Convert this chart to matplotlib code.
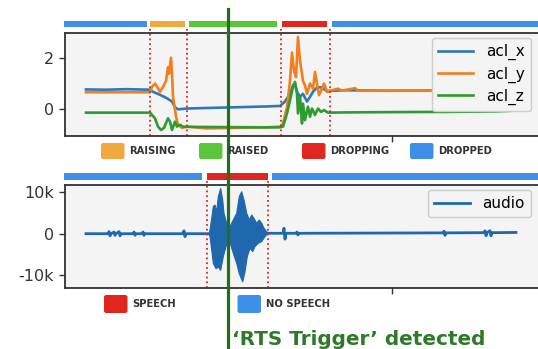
import matplotlib
matplotlib.use("Agg")
import matplotlib.pyplot as plt
from matplotlib.patches import FancyBboxPatch
from matplotlib.lines import Line2D

# ---- accelerometer (sample index, value) ----
t_x = [0, 20, 40, 64, 67, 74, 81, 86, 89, 92, 101, 120, 140, 160, 180, 194,
       199, 204, 207, 209, 211, 214, 217, 221, 224, 227, 231, 236, 241, 246,
       260, 300, 360, 430]
acl_x = [0.77, 0.76, 0.78, 0.76, 0.68, 0.56, 0.43, 0.30, 0.08, 0.00, 0.03,
         0.05, 0.07, 0.09, 0.11, 0.13, 0.30, 0.60, 0.93, 1.00, 0.68, 0.48,
         0.60, 0.30, 0.48, 0.68, 0.85, 0.85, 0.70, 0.72, 0.74, 0.72, 0.73, 0.72]

t_y = [0, 64, 66, 69, 71, 74, 77, 80, 82, 83, 85, 86, 87, 90, 92, 96, 101,
       120, 150, 180, 194, 197, 201, 204, 206, 208, 210, 212, 214, 216, 217,
       219, 221, 224, 227, 229, 231, 233, 236, 238, 241, 244, 252, 256, 269,
       272, 300, 430]
acl_y = [0.66, 0.66, 0.87, 1.00, 0.87, 0.68, 0.87, 1.10, 1.63, 1.38, 2.00,
         1.38, 0.50, -0.28, -0.60, -0.72, -0.67, -0.74, -0.72, -0.70, -0.67,
         -0.55, 0.08, 1.10, 2.20, 1.50, 1.25, 2.80, 1.88, 1.38, 1.10, 0.93,
         0.60, 1.00, 0.80, 1.45, 1.00, 0.55, 0.80, 1.00, 0.68, 0.72, 0.80,
         0.72, 0.82, 0.72, 0.72, 0.72]

t_z = [0, 64, 66, 69, 72, 75, 78, 82, 84, 86, 89, 91, 94, 97, 101, 140, 180,
       194, 197, 201, 204, 207, 209, 211, 212, 214, 216, 217, 219, 222, 224,
       226, 229, 232, 235, 238, 242, 260, 300, 360, 410, 430]
acl_z = [-0.13, -0.13, -0.22, -0.35, -0.67, -0.80, -0.72, -0.35, -0.48, -0.80,
         -0.48, -0.67, -0.60, -0.67, -0.68, -0.69, -0.70, -0.70, -0.67, -0.16,
         0.35, 0.87, 1.06, 0.60, -0.16, 0.48, -0.55, 0.22, -0.42, 0.10, -0.29,
         0.03, -0.22, 0.03, -0.10, -0.03, -0.13, -0.12, -0.11, -0.10, -0.08,
         -0.05]

# ---- audio ----
t_audio = [0, 22, 23, 24, 25, 28, 29, 30, 33, 34, 35, 47, 48, 49, 50, 56, 57,
           58, 59, 97, 98, 99, 100, 123, 182, 197, 198, 199, 200, 210, 211,
           212, 213, 357, 358, 359, 360, 398, 399, 400, 401, 404, 405, 406, 430]
audio = [0, 0, 500, -500, 0, 400, -400, 0, 500, -500, 0, 0, 400, -400, 0, 0,
         400, -400, 0, 0, 700, -700, 0, 0, 100, 100, 1300, -1300, 100, 100,
         400, -300, 100, 200, 600, -400, 200, 250, 700, -500, 250, 700, -500,
         250, 300]

# speech burst envelope
t_up = [123, 124, 125.5, 127.3, 129, 130.7, 132.3, 134.7, 136.7, 138, 140.7,
        144, 147.3, 150.7, 153.3, 155.7, 158, 160.7, 163.3, 165.7, 168, 170.7,
        173.3, 175.7, 178, 180.7, 182]
env_up = [0, 900, 3300, 6500, 6900, 5300, 8900, 10900, 8100, 4900, 2500, 1700,
          3300, 4900, 8900, 10100, 8100, 4900, 3300, 4500, 3700, 2500, 3300,
          2500, 1300, 500, 100]
t_lo = [123, 124, 125.5, 127.3, 130, 132.3, 134.7, 137.3, 140, 142.3, 144.7,
        147.3, 150.7, 153.3, 156.7, 159, 161.3, 164, 166.7, 169, 172.3, 175.7,
        179, 180.7, 182]
env_lo = [0, -700, -3500, -7100, -8400, -8000, -8800, -5500, -3100, -1900,
          -2700, -4700, -7100, -9600, -11600, -9200, -5500, -3500, -4300, -3100,
          -2300, -1900, -700, -300, 100]

# ---- state bars ----
acl_states = [(-22, 61), (64, 99), (103, 191), (196, 241), (246, 460)]
acl_state_cols = ["#3d8fe8", "#f2a93b", "#5ac63c", "#e0261e", "#3d8fe8"]
acl_bounds = [64, 101, 194.5, 244]
audio_states = [(-22, 116), (121, 182), (186, 460)]
audio_state_cols = ["#3d8fe8", "#e0261e", "#3d8fe8"]
audio_bounds = [120.5, 182]

acl_labels = ["RAISING", "RAISED", "DROPPING", "DROPPED"]
acl_label_cols = ["#f2a93b", "#5ac63c", "#e0261e", "#3d8fe8"]
audio_labels = ["SPEECH", "NO SPEECH"]
audio_label_cols = ["#e0261e", "#3d8fe8"]

W, H = 538, 349


def fx(px):
    return px / W


def fy(py):
    return 1 - py / H


fig = plt.figure(figsize=(W / 100, H / 100), dpi=100)
ax1 = fig.add_axes([fx(64.5), fy(136), fx(545) - fx(64.5), 103.3 / H])
ax2 = fig.add_axes([fx(64.5), fy(288), fx(545) - fx(64.5), 103 / H])

for ax in (ax1, ax2):
    ax.set_facecolor("#f4f4f4")
    for s in ax.spines.values():
        s.set_color("#333333")
        s.set_linewidth(1.3)
    ax.set_xlim(-21.5, 459)
    ax.set_xticks([306])
    ax.set_xticklabels([""])
    ax.tick_params(colors="#333333", length=4, width=1, labelsize=11.5)

ax1.plot(t_x, acl_x, color="#2f78b7", lw=1.9, label="acl_x")
ax1.plot(t_y, acl_y, color="#f07f1c", lw=1.9, label="acl_y")
ax1.plot(t_z, acl_z, color="#2f9a2f", lw=1.9, label="acl_z")
ax1.set_ylim(-1.035, 2.97)
ax1.set_yticks([0, 2])

ax2.plot(t_audio, audio, color="#2068ad", lw=2.0, label="audio")
ax2.fill(t_up + t_lo[::-1], env_up + env_lo[::-1], color="#2068ad", lw=0.8)
ax2.set_ylim(-13020, 11680)
ax2.set_yticks([-10000, 0, 10000])
ax2.set_yticklabels(["-10k", "0", "10k"])

for (a, b), c in zip(acl_states, acl_state_cols):
    ax1.axvspan(a, b, ymin=1.052, ymax=1.116, color=c, lw=0, clip_on=False)
for x in acl_bounds:
    ax1.axvline(x, ymin=0, ymax=1.052, color="#d42a22", ls=":", lw=1.3, clip_on=False)
for (a, b), c in zip(audio_states, audio_state_cols):
    ax2.axvspan(a, b, ymin=1.049, ymax=1.113, color=c, lw=0, clip_on=False)
for x in audio_bounds:
    ax2.axvline(x, ymin=0, ymax=1.049, color="#d42a22", ls=":", lw=1.3, clip_on=False)

leg_kw = dict(loc="upper right", borderaxespad=0, fontsize=11, handlelength=2.3,
              handletextpad=0.85, labelspacing=0.4, fancybox=True, framealpha=1,
              edgecolor="#cccccc", facecolor="#f4f4f4")
ax1.legend(bbox_to_anchor=(0.971, 0.949), **leg_kw)
ax2.legend(bbox_to_anchor=(0.971, 0.951), **leg_kw)


def key_row(labels, cols, xs, y0, y1):
    for lab, c, x0 in zip(labels, cols, xs):
        fig.add_artist(FancyBboxPatch((fx(x0), fy(y1)), 23.5 / W, (y1 - y0) / H,
                                      boxstyle="round,pad=0,rounding_size=0.004",
                                      mutation_aspect=W / H, transform=fig.transFigure,
                                      color=c, lw=0))
        fig.text(fx(x0 + 28.5), fy((y0 + y1) / 2), lab, fontsize=7.2, fontweight="bold",
                 color="#333333", va="center", ha="left")


key_row(acl_labels, acl_label_cols, [101, 199, 302, 410], 143, 159)
key_row(audio_labels, audio_label_cols, [104, 237.5], 295, 313)

fig.add_artist(Line2D([fx(227.5), fx(227.5)], [fy(9), fy(349)], transform=fig.transFigure,
                      color="#236d1c", lw=2.3))
fig.text(fx(232), fy(345), "\u2018RTS Trigger\u2019 detected", fontsize=14.4, fontweight="bold",
         color="#2e7a2a", family=["DejaVu Sans"], va="baseline", ha="left")

fig.savefig("out.png", dpi=100)
